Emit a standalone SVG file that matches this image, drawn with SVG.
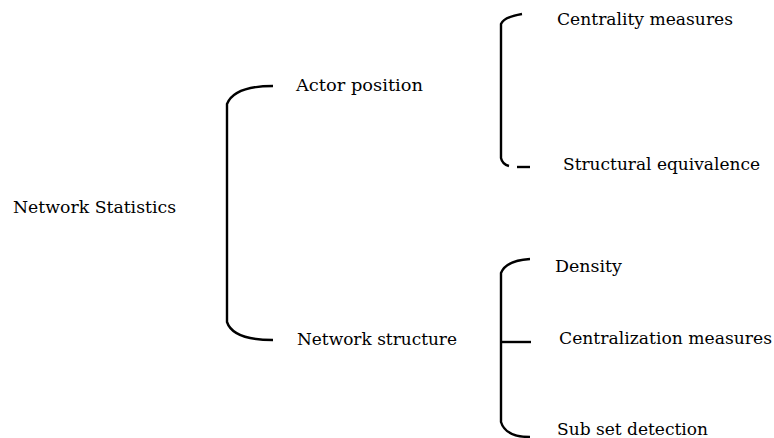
<svg xmlns="http://www.w3.org/2000/svg" width="774" height="438" viewBox="0 0 774 438">
<style>
text{font-family:"DejaVu Serif",serif;font-size:17px;fill:#000}
.c{fill:none;stroke:#000;stroke-width:2.4;stroke-linecap:butt}
</style>
<rect width="774" height="438" fill="#fff"/>
<g id="connectors">
<path class="c" d="M273,86 C248,86 232,92 227,104 L227,322 C231,334 248,340 273,340"/>
<path class="c" d="M522,14 C510,16 503,19 501,24 L501,158 C502,163 505,165 509,166"/>
<path class="c" d="M517,167 L530,167"/>
<path class="c" d="M530,259 C514,260 504,265 501,273 L501,422 C504,432 514,437 530,437"/>
<path class="c" d="M501,342 L531,342"/>
</g>
<g id="n-root"><text x="13" y="213" textLength="163" lengthAdjust="spacingAndGlyphs">Network Statistics</text></g>
<g id="n-actor"><text x="296" y="91" textLength="127" lengthAdjust="spacingAndGlyphs">Actor position</text></g>
<g id="n-structure"><text x="297" y="345" textLength="160" lengthAdjust="spacingAndGlyphs">Network structure</text></g>
<g id="n-centrality"><text x="557" y="25" textLength="176" lengthAdjust="spacingAndGlyphs">Centrality measures</text></g>
<g id="n-equivalence"><text x="563" y="170" textLength="197" lengthAdjust="spacingAndGlyphs">Structural equivalence</text></g>
<g id="n-density"><text x="555" y="272" textLength="67" lengthAdjust="spacingAndGlyphs">Density</text></g>
<g id="n-centralization"><text x="559" y="344" textLength="213" lengthAdjust="spacingAndGlyphs">Centralization measures</text></g>
<g id="n-subset"><text x="557" y="435" textLength="151" lengthAdjust="spacingAndGlyphs">Sub set detection</text></g>
</svg>
